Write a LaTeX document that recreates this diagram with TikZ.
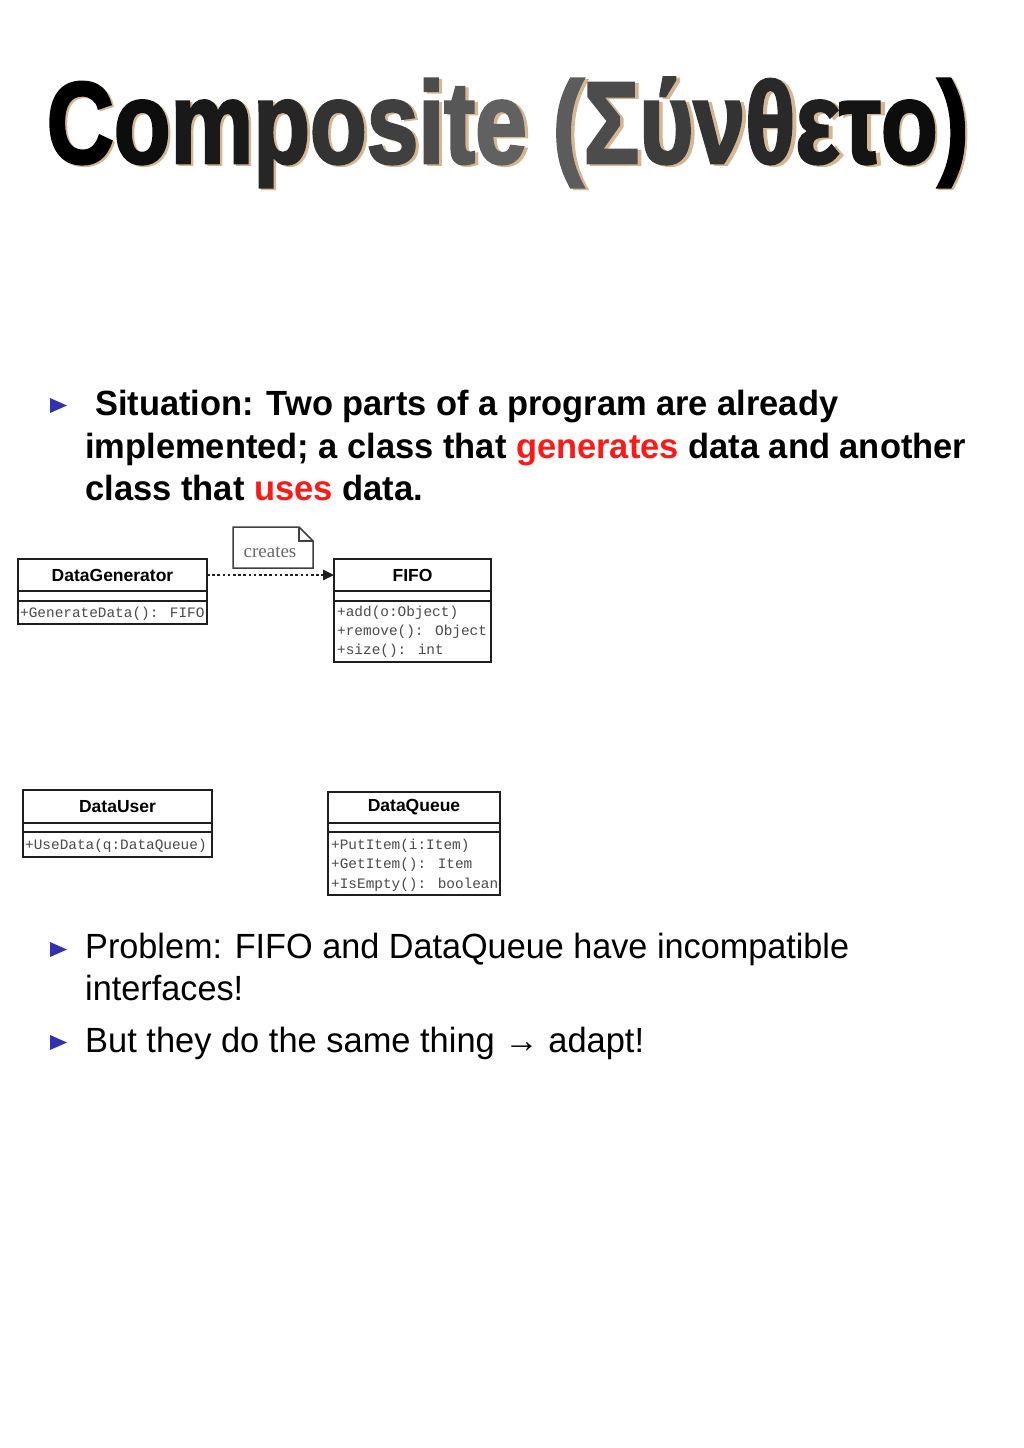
\documentclass[tikz,border=0pt]{standalone}
\usepackage{fontspec}
\setmainfont{Liberation Sans}
\newfontfamily\monofont{Liberation Mono}
\newfontfamily\notefont{Liberation Serif}
\newfontfamily\headfont[FakeBold=2.5]{Liberation Sans Bold}
\usetikzlibrary{arrows.meta}

\definecolor{bulletblue}{HTML}{3232B0}
\definecolor{hilite}{HTML}{FF1A1A}
\definecolor{shadowtan}{HTML}{D4B692}
\definecolor{umlline}{HTML}{1E1E1E}
\definecolor{memtext}{HTML}{4A4A4A}
\definecolor{notetext}{HTML}{6A6A6A}

% one title letter in a given shade of black
\newcommand\gl[2]{\textcolor{black!#1}{#2}}

\begin{document}
\begin{tikzpicture}[x=1pt,y=-1pt,
  titletext/.style={anchor=base west, inner sep=0pt, font=\headfont\fontsize{116}{116}\selectfont},
  boldline/.style={anchor=base west, inner sep=0pt, font=\fontsize{35}{35}\selectfont\bfseries},
  plainline/.style={anchor=base west, inner sep=0pt, font=\fontsize{35}{35}\selectfont},
  bulletmark/.style={fill=bulletblue},
  umlbox/.style={draw=umlline, line width=2.4pt, inner sep=0pt, outer sep=0pt, fill=white, anchor=north west},
  classname/.style={umlbox, font=\fontsize{17.5}{17.5}\selectfont\bfseries},
  member/.style={anchor=base west, inner sep=0pt, font=\monofont\fontsize{14.4}{14.4}\selectfont, text=memtext},
  notebox/.style={draw=umlline!85, line width=1.5pt, fill=white, line join=miter},
  dependency/.style={draw=umlline, line width=2.5pt, dash pattern=on 2.6pt off 2.6pt, -{Triangle[length=11pt,width=10pt]}}
]
\useasboundingbox (0,0) rectangle (1024,1448);
\fill[white] (0,0) rectangle (1024,1448);

% ---------- title with a soft tan shadow ----------
\node[titletext, text=shadowtan] (titleshadow) at (48.5,164.5)
  {\resizebox{922pt}{\height}{Composite (Σύνθετο)}};
\node[titletext] (title) at (46.5,163)
  {\resizebox{922pt}{\height}{\gl{100}{C}\gl{95}{o}\gl{90}{m}\gl{85}{p}\gl{80}{o}\gl{75}{s}\gl{70}{i}\gl{66}{t}\gl{62}{e} \gl{64}{(}\gl{70}{Σ}\gl{76}{ύ}\gl{80}{ν}\gl{84}{θ}\gl{88}{ε}\gl{92}{τ}\gl{95}{ο}\gl{100}{)}}};

% ---------- first bullet ----------
\fill[bulletmark] (50,398) -- (67,405.5) -- (50,413) -- cycle;
\node[boldline] (sit1) at (95,415)
  {\resizebox{743pt}{\height}{Situation: Two parts of a program are already}};
\node[boldline] (sit2) at (85,458)
  {\resizebox{881pt}{\height}{implemented; a class that \textcolor{hilite}{generates} data and another}};
\node[boldline] (sit3) at (85,500)
  {\resizebox{338pt}{\height}{class that \textcolor{hilite}{uses} data.}};

% ---------- DataGenerator ----------
\node[classname, minimum width=189pt, minimum height=32pt] (gen) at (18,559) {DataGenerator};
\node[umlbox, minimum width=189pt, minimum height=10pt] (genattr) at (gen.south west) {};
\node[umlbox, minimum width=189pt, minimum height=23pt] (genops) at (genattr.south west) {};
\node[member] (genop1) at ([xshift=2pt,yshift=-16pt]genops.north west) {+GenerateData(): FIFO};

% ---------- FIFO ----------
\node[classname, minimum width=157pt, minimum height=32pt] (fifo) at (334,559) {FIFO};
\node[umlbox, minimum width=157pt, minimum height=10pt] (fifoattr) at (fifo.south west) {};
\node[umlbox, minimum width=157pt, minimum height=61pt] (fifoops) at (fifoattr.south west) {};
\node[member] (fifoop1) at ([xshift=3pt,yshift=-15pt]fifoops.north west) {+add(o:Object)};
\node[member] (fifoop2) at ([xshift=3pt,yshift=-34pt]fifoops.north west) {+remove(): Object};
\node[member] (fifoop3) at ([xshift=3pt,yshift=-53pt]fifoops.north west) {+size(): int};

% ---------- "creates" note and dependency ----------
\coordinate (noteA) at (233,527);
\coordinate (noteB) at (299,527);
\coordinate (noteC) at (313,541);
\coordinate (noteD) at (313,568);
\coordinate (noteE) at (233,568);
\draw[notebox] (noteA) -- (noteB) -- (noteC) -- (noteD) -- (noteE) -- cycle;
\draw[notebox, fill=none] (noteB) -- (noteB |- noteC) -- (noteC);
\node[anchor=base, inner sep=0pt, font=\notefont\fontsize{19}{19}\selectfont, text=notetext] (note) at (270,557) {creates};
\draw[dependency] (gen.east) -- (fifo.west);

% ---------- DataUser ----------
\node[classname, minimum width=189pt, minimum height=33pt] (user) at (23,790) {DataUser};
\node[umlbox, minimum width=189pt, minimum height=9pt] (userattr) at (user.south west) {};
\node[umlbox, minimum width=189pt, minimum height=25pt] (userops) at (userattr.south west) {};
\node[member] (userop1) at ([xshift=2pt,yshift=-17pt]userops.north west) {+UseData(q:DataQueue)};

% ---------- DataQueue ----------
\node[classname, minimum width=172pt, minimum height=31pt] (queue) at (328,792) {DataQueue};
\node[umlbox, minimum width=172pt, minimum height=9pt] (queueattr) at (queue.south west) {};
\node[umlbox, minimum width=172pt, minimum height=63pt] (queueops) at (queueattr.south west) {};
\node[member] (queueop1) at ([xshift=3pt,yshift=-17pt]queueops.north west) {+PutItem(i:Item)};
\node[member] (queueop2) at ([xshift=3pt,yshift=-36pt]queueops.north west) {+GetItem(): Item};
\node[member] (queueop3) at ([xshift=3pt,yshift=-56pt]queueops.north west) {+IsEmpty(): boolean};

% ---------- problem bullets ----------
\fill[bulletmark] (50,942) -- (67,949.5) -- (50,957) -- cycle;
\node[plainline] (prob1) at (85,958)
  {\resizebox{764pt}{\height}{Problem: FIFO and DataQueue have incompatible}};
\node[plainline] (prob2) at (85,1000)
  {\resizebox{158pt}{\height}{interfaces!}};
\fill[bulletmark] (50,1035) -- (67,1042.5) -- (50,1050) -- cycle;
\node[plainline] (adapt) at (85,1052)
  {\resizebox{559pt}{\height}{But they do the same thing → adapt!}};
\end{tikzpicture}
\end{document}
